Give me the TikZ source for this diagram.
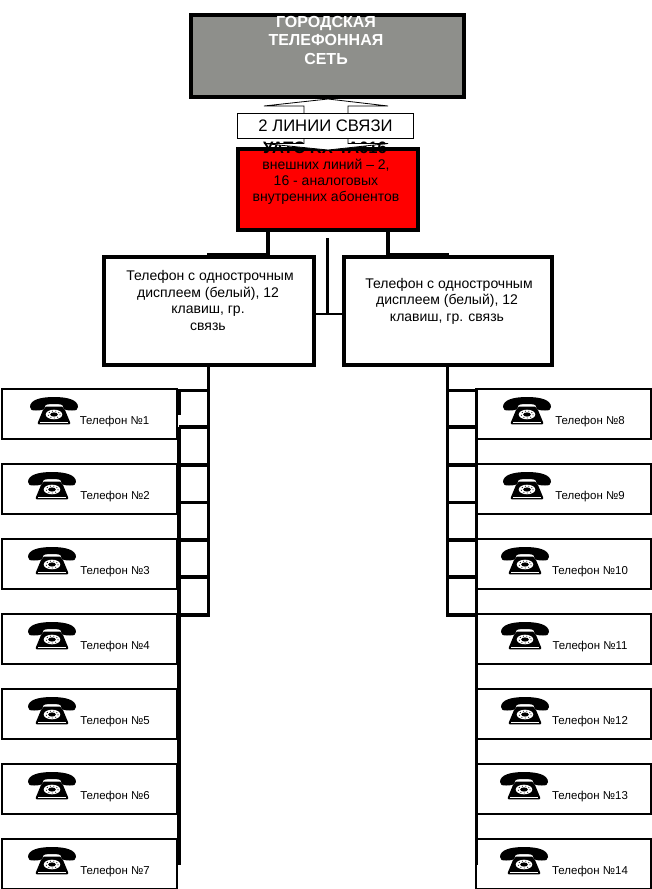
\documentclass[tikz,border=0pt]{standalone}
\usepackage{fontspec}
\setmainfont{Liberation Sans}
\definecolor{citygray}{RGB}{142,143,139}
\tikzset{
  px/.style={x=0.75pt,y=-0.75pt},
  bigbox/.style={draw=black,line width=3pt,inner sep=0pt,outer sep=0pt,anchor=north west},
  telbox/.style={draw=black,line width=1.1pt,fill=white,inner sep=0pt,outer sep=0pt,anchor=north west,minimum width=131.25pt,minimum height=37.5pt},
  tellabel/.style={font=\fontsize{8.6pt}{10pt}\selectfont,inner sep=0pt},
  wire/.style={line width=2.3pt,black},
  bwire/.style={line width=1.6pt,black},
  midtext/.style={font=\fontsize{10.5pt}{12.3pt}\selectfont,align=center,inner sep=0pt},
}
\newcommand{\phoneicon}[2]{%
 \begin{scope}[shift={(#1,#2)}]
  \fill[black] (0,10) .. controls (0,3) and (10,0) .. (24,0) .. controls (38,0) and (48,3) .. (48,10)
     .. controls (48,13) and (46,13.5) .. (42,13.5) .. controls (37,13.5) and (33,13) .. (33,9.5)
     .. controls (33,7.5) and (30,7) .. (24,7) .. controls (18,7) and (15,7.5) .. (15,9.5)
     .. controls (15,13) and (11,13.5) .. (6,13.5) .. controls (2,13.5) and (0,13) .. (0,10) -- cycle;
  \fill[black] (16,9.5) -- (32,9.5) -- (35,13) -- (40,25) .. controls (40.5,27) and (40,27.3) .. (39,27.3) -- (9,27.3) .. controls (8,27.3) and (7.5,27) .. (8,25) -- (13,13) -- cycle;
  \fill[white] (24,17.5) ellipse (8.3 and 4.8);
  \fill[black] (24,17.5) ellipse (3.8 and 2.1);
  \draw[black,line width=0.6pt,dotted] (24,17.5) ellipse (6.2 and 3.5);
  \draw[white,line width=0.6pt] (10,25) -- (38,25);
 \end{scope}}
\begin{document}
\begin{tikzpicture}[px]
\useasboundingbox (0,0) rectangle (652,889);
% connectors
\coordinate (h1) at (268,232); \coordinate (h2) at (268,254.5); \coordinate (h3) at (207,254.5);
\coordinate (k1) at (388,232); \coordinate (k2) at (388,254.5); \coordinate (k3) at (449,254.5);
\coordinate (c1) at (327.5,238); \coordinate (c2) at (327.5,314);
\coordinate (c3) at (314,314); \coordinate (c4) at (342,314);
\draw[wire] (h1)--(h2)--(h3);
\draw[wire] (k1)--(k2)--(k3);
\draw[wire] (c1)--(c2);
\draw[bwire] (c3)--(c4);
% red box
\node[bigbox,fill=red,minimum width=135pt,minimum height=60.75pt] (ats) at (238,149) {};
\node[midtext,font=\bfseries\fontsize{12.4pt}{13pt}\selectfont] (atstitle) at (325,148) {УАТС KX-TA616};
\node[midtext,anchor=north] (atstext) at (326,158.5) {внешних линий -- 2,\\16 - аналоговых\\внутренних абонентов};
% gray box
\node[bigbox,fill=citygray,minimum width=204.75pt,minimum height=61.5pt] (city) at (191,15) {};
\node[midtext,anchor=north,text=white,font=\bfseries\fontsize{12pt}{13.9pt}\selectfont] (citytext) at (326,16) {ГОРОДСКАЯ\\ТЕЛЕФОННАЯ\\СЕТЬ};
% double arrow
\coordinate (at) at (328,99); \coordinate (ab) at (328,150);
\draw[fill=white,line width=0.6pt] (at) -- (388,106) -- (348,106) -- (348,143.5) -- (388,143.5) -- (ab) -- (264,143.5) -- (304,143.5) -- (304,106) -- (264,106) -- cycle;
\node[draw=black,line width=0.6pt,fill=white,minimum width=131.5pt,minimum height=18.75pt,inner sep=0pt,font=\fontsize{12.5pt}{14pt}\selectfont] (lines) at (325.5,125.5) {\raisebox{-1.2pt}{2 ЛИНИИ СВЯЗИ}};
% phones
\node[bigbox,fill=white,minimum width=157.5pt,minimum height=81pt] (p1) at (103.5,256.5) {};
\node[bigbox,fill=white,minimum width=156pt,minimum height=81pt] (p2) at (344,256.5) {};
\node[midtext,anchor=north] (p1t) at (208,270.5) {\hspace*{3pt}Телефон с однострочным\\дисплеем (белый), 12\\клавиш, гр.\\связь};
\node[midtext,anchor=north] (p2t) at (447,278) {\hspace*{3pt}Телефон с однострочным\\дисплеем (белый), 12\\клавиш, гр. связь};
% telephone boxes
\foreach \n/\yy/\px/\lx in {1/389/30/114.5,2/464/28/115,3/539/28/115,4/614/28/115,5/689/28/115,6/764/28/115,7/839/28/115} {
  \node[telbox] (l\n) at (2,\yy) {};
  \phoneicon{\px}{\yy+8}
  \node[tellabel] (ll\n) at (\lx,\yy+33) {Телефон №\n};
}
\foreach \n/\yy/\px/\lx in {8/389/503/590,9/464/503/590,10/539/501/590,11/614/501/590,12/689/501/590,13/764/500/590,14/839/500/590} {
  \node[telbox] (r\n) at (476,\yy) {};
  \phoneicon{\px}{\yy+8}
  \node[tellabel] (rl\n) at (\lx,\yy+33) {Телефон №\n};
}
% trunks
\coordinate (lt) at (208.5,365); \coordinate (lb) at (208.5,615);
\coordinate (rt) at (447.5,365); \coordinate (rb) at (447.5,615);
\coordinate (lv1) at (179,389); \coordinate (lv2) at (179,415);
\coordinate (lv3) at (179,427); \coordinate (lv4) at (179,865);
\coordinate (rv1) at (476.5,389); \coordinate (rv2) at (476.5,865);
\draw[wire] (lt)--(lb)--(179,615);
\draw[wire] (rt)--(rb)--(476.5,615);
\draw[wire] (lv1)--(lv2);
\draw[wire] (lv3)--(lv4);
\draw[wire] (rv1)--(rv2);
\foreach \y in {390.5,427,465,502.5,540,577} {
  \draw[wire] (179,\y)--(208.5,\y);
  \draw[wire] (447.5,\y)--(476.5,\y);
}
\end{tikzpicture}
\end{document}
